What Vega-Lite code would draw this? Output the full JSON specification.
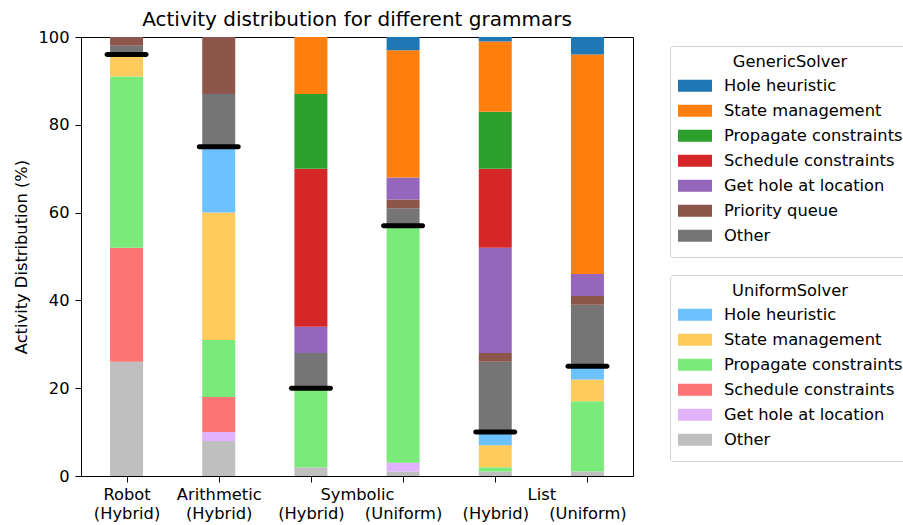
{
  "$schema": "https://vega.github.io/schema/vega-lite/v6.json",
  "autosize": "none",
  "width": 552,
  "height": 439,
  "padding": {"left": 81, "top": 37, "right": 270, "bottom": 49},
  "title": {
    "text": "Activity distribution for different grammars",
    "fontSize": 20,
    "fontWeight": "normal",
    "color": "black",
    "offset": -1
  },
  "config": {
    "font": "DejaVu Sans",
    "view": {"stroke": "black", "strokeWidth": 1},
    "axis": {
      "grid": false,
      "domainColor": "black",
      "tickColor": "black",
      "labelColor": "black",
      "titleColor": "black",
      "labelFontSize": 16.3,
      "titleFontSize": 16.3,
      "titleFontWeight": "normal",
      "tickSize": 6
    },
    "legend": {
      "titleFontSize": 16.3,
      "titleFontWeight": "normal",
      "titleColor": "black",
      "titleAnchor": "middle",
      "titlePadding": 3,
      "labelFontSize": 16.3,
      "labelColor": "black",
      "labelLimit": 400,
      "labelOffset": 12,
      "symbolType": "M-1,-0.35H1V0.35H-1Z",
      "symbolSize": 1156,
      "symbolStrokeWidth": 0,
      "symbolOpacity": 1,
      "rowPadding": 0,
      "clipHeight": 25,
      "padding": 8,
      "strokeColor": "#d0d0d0",
      "fillColor": "white",
      "cornerRadius": 3
    }
  },
  "data": {
    "values": [
      {"slot": 0, "solver": "Uniform", "activity": "Other", "ord": 0, "value": 26},
      {"slot": 0, "solver": "Uniform", "activity": "Schedule constraints", "ord": 2, "value": 26},
      {"slot": 0, "solver": "Uniform", "activity": "Propagate constraints", "ord": 3, "value": 39},
      {"slot": 0, "solver": "Uniform", "activity": "State management", "ord": 4, "value": 5},
      {"slot": 0, "solver": "Generic", "activity": "Other", "ord": 6, "value": 2},
      {"slot": 0, "solver": "Generic", "activity": "Priority queue", "ord": 7, "value": 2},

      {"slot": 1, "solver": "Uniform", "activity": "Other", "ord": 0, "value": 8},
      {"slot": 1, "solver": "Uniform", "activity": "Get hole at location", "ord": 1, "value": 2},
      {"slot": 1, "solver": "Uniform", "activity": "Schedule constraints", "ord": 2, "value": 8},
      {"slot": 1, "solver": "Uniform", "activity": "Propagate constraints", "ord": 3, "value": 13},
      {"slot": 1, "solver": "Uniform", "activity": "State management", "ord": 4, "value": 29},
      {"slot": 1, "solver": "Uniform", "activity": "Hole heuristic", "ord": 5, "value": 15},
      {"slot": 1, "solver": "Generic", "activity": "Other", "ord": 6, "value": 12},
      {"slot": 1, "solver": "Generic", "activity": "Priority queue", "ord": 7, "value": 13},

      {"slot": 2, "solver": "Uniform", "activity": "Other", "ord": 0, "value": 2},
      {"slot": 2, "solver": "Uniform", "activity": "Propagate constraints", "ord": 3, "value": 18},
      {"slot": 2, "solver": "Generic", "activity": "Other", "ord": 6, "value": 8},
      {"slot": 2, "solver": "Generic", "activity": "Get hole at location", "ord": 8, "value": 6},
      {"slot": 2, "solver": "Generic", "activity": "Schedule constraints", "ord": 9, "value": 36},
      {"slot": 2, "solver": "Generic", "activity": "Propagate constraints", "ord": 10, "value": 17},
      {"slot": 2, "solver": "Generic", "activity": "State management", "ord": 11, "value": 13},

      {"slot": 3, "solver": "Uniform", "activity": "Other", "ord": 0, "value": 1},
      {"slot": 3, "solver": "Uniform", "activity": "Get hole at location", "ord": 1, "value": 2},
      {"slot": 3, "solver": "Uniform", "activity": "Propagate constraints", "ord": 3, "value": 54},
      {"slot": 3, "solver": "Generic", "activity": "Other", "ord": 6, "value": 4},
      {"slot": 3, "solver": "Generic", "activity": "Priority queue", "ord": 7, "value": 2},
      {"slot": 3, "solver": "Generic", "activity": "Get hole at location", "ord": 8, "value": 5},
      {"slot": 3, "solver": "Generic", "activity": "State management", "ord": 11, "value": 29},
      {"slot": 3, "solver": "Generic", "activity": "Hole heuristic", "ord": 12, "value": 3},

      {"slot": 4, "solver": "Uniform", "activity": "Other", "ord": 0, "value": 1},
      {"slot": 4, "solver": "Uniform", "activity": "Propagate constraints", "ord": 3, "value": 1},
      {"slot": 4, "solver": "Uniform", "activity": "State management", "ord": 4, "value": 5},
      {"slot": 4, "solver": "Uniform", "activity": "Hole heuristic", "ord": 5, "value": 3},
      {"slot": 4, "solver": "Generic", "activity": "Other", "ord": 6, "value": 16},
      {"slot": 4, "solver": "Generic", "activity": "Priority queue", "ord": 7, "value": 2},
      {"slot": 4, "solver": "Generic", "activity": "Get hole at location", "ord": 8, "value": 24},
      {"slot": 4, "solver": "Generic", "activity": "Schedule constraints", "ord": 9, "value": 18},
      {"slot": 4, "solver": "Generic", "activity": "Propagate constraints", "ord": 10, "value": 13},
      {"slot": 4, "solver": "Generic", "activity": "State management", "ord": 11, "value": 16},
      {"slot": 4, "solver": "Generic", "activity": "Hole heuristic", "ord": 12, "value": 1},

      {"slot": 5, "solver": "Uniform", "activity": "Other", "ord": 0, "value": 1},
      {"slot": 5, "solver": "Uniform", "activity": "Propagate constraints", "ord": 3, "value": 16},
      {"slot": 5, "solver": "Uniform", "activity": "State management", "ord": 4, "value": 5},
      {"slot": 5, "solver": "Uniform", "activity": "Hole heuristic", "ord": 5, "value": 3},
      {"slot": 5, "solver": "Generic", "activity": "Other", "ord": 6, "value": 14},
      {"slot": 5, "solver": "Generic", "activity": "Priority queue", "ord": 7, "value": 2},
      {"slot": 5, "solver": "Generic", "activity": "Get hole at location", "ord": 8, "value": 5},
      {"slot": 5, "solver": "Generic", "activity": "State management", "ord": 11, "value": 50},
      {"slot": 5, "solver": "Generic", "activity": "Hole heuristic", "ord": 12, "value": 4}
    ]
  },
  "transform": [
    {"stack": "value", "groupby": ["slot"], "sort": [{"field": "ord", "order": "ascending"}], "as": ["y0", "y1"]}
  ],
  "layer": [
    {
      "transform": [{"filter": "datum.solver === 'Generic'"}],
      "mark": {"type": "bar", "size": 33},
      "encoding": {
        "x": {
          "field": "slot",
          "type": "quantitative",
          "scale": {"domain": [-0.44, 5.44], "nice": false, "zero": false},
          "axis": {
            "orient": "bottom",
            "title": null,
            "values": [0, 1, 2, 3, 4, 5],
            "labelExpr": "[['Robot','(Hybrid)'],['Arithmetic','(Hybrid)'],['','(Hybrid)'],['','(Uniform)'],['','(Hybrid)'],['','(Uniform)']][datum.value]",
            "labelLineHeight": 19,
            "labelBaseline": "top",
            "labelPadding": 4,
            "labelFlush": false,
            "labelOverlap": false,
            "labelBound": false
          }
        },
        "y": {
          "field": "y0",
          "type": "quantitative",
          "scale": {"domain": [0, 100], "nice": false},
          "axis": {"title": "Activity Distribution (%)", "values": [0, 20, 40, 60, 80, 100], "labelPadding": 6, "titlePadding": 8}
        },
        "y2": {"field": "y1"},
        "color": {
          "field": "activity",
          "type": "nominal",
          "scale": {
            "domain": ["Hole heuristic", "State management", "Propagate constraints", "Schedule constraints", "Get hole at location", "Priority queue", "Other"],
            "range": ["#1f77b4", "#ff7f0e", "#2ca02c", "#d62728", "#9467bd", "#8c564b", "#757575"]
          },
          "legend": {"title": "GenericSolver", "orient": "none", "legendX": 589, "legendY": 9}
        }
      }
    },
    {
      "transform": [{"filter": "datum.solver === 'Uniform'"}],
      "mark": {"type": "bar", "size": 33},
      "encoding": {
        "x": {"field": "slot", "type": "quantitative", "axis": null},
        "y": {"field": "y0", "type": "quantitative"},
        "y2": {"field": "y1"},
        "color": {
          "field": "activity",
          "type": "nominal",
          "scale": {
            "domain": ["Hole heuristic", "State management", "Propagate constraints", "Schedule constraints", "Get hole at location", "Other"],
            "range": ["#6cc2ff", "#ffcb5c", "#7aeb7a", "#ff7575", "#e0b3fc", "#bfbfbf"]
          },
          "legend": {"title": "UniformSolver", "orient": "none", "legendX": 589, "legendY": 238}
        }
      }
    },
    {
      "transform": [
        {"filter": "datum.solver === 'Uniform'"},
        {"aggregate": [{"op": "sum", "field": "value", "as": "uniform_total"}], "groupby": ["slot"]}
      ],
      "mark": {"type": "tick", "orient": "horizontal", "size": 44, "thickness": 5, "color": "black", "opacity": 1, "cornerRadius": 2.5},
      "encoding": {
        "x": {
          "field": "slot",
          "type": "quantitative",
          "axis": {
            "orient": "bottom",
            "title": null,
            "values": [2.5, 4.5],
            "labelExpr": "datum.value == 2.5 ? 'Symbolic' : 'List'",
            "ticks": false,
            "domain": false,
            "labelBaseline": "top",
            "labelPadding": 10,
            "labelFlush": false,
            "labelOverlap": false,
            "labelBound": false
          }
        },
        "y": {"field": "uniform_total", "type": "quantitative"}
      }
    }
  ],
  "resolve": {"scale": {"color": "independent"}, "axis": {"x": "independent"}}
}
